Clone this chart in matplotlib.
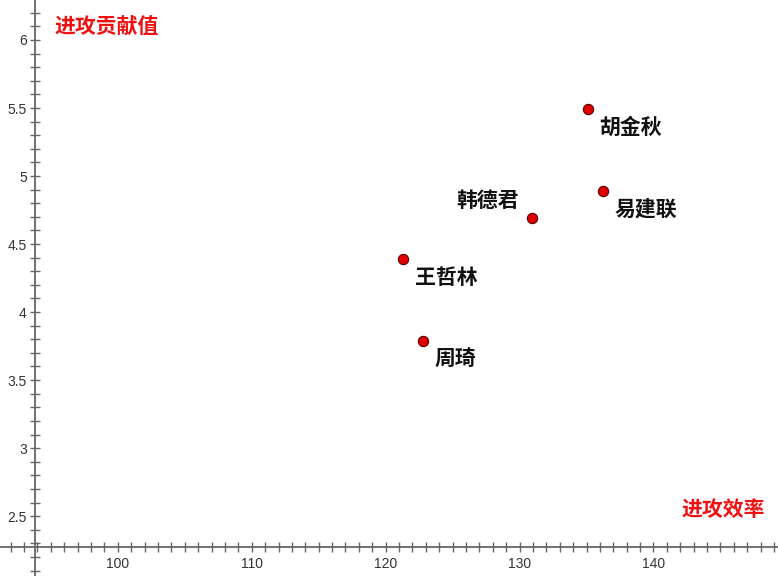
import matplotlib.pyplot as plt
from matplotlib.ticker import MultipleLocator

# data
players = ["胡金秋", "易建联", "韩德君", "王哲林", "周琦"]
off_eff = [135.1, 136.2, 130.9, 121.3, 122.8]      # 进攻效率
off_contrib = [5.49, 4.89, 4.69, 4.39, 3.79]       # 进攻贡献值
label_side = ["right", "right", "left", "right", "right"]

x_ticks = [100, 110, 120, 130, 140]
y_ticks = [2.5, 3, 3.5, 4, 4.5, 5, 5.5, 6]
y_ticklabels = ["2.5", "3", "3.5", "4", "4.5", "5", "5.5", "6"]

cjk = ["Noto Sans CJK SC", "DejaVu Sans"]
plt.rcParams["font.family"] = ["Liberation Sans", "DejaVu Sans"]

fig = plt.figure(figsize=(7.78, 5.76), dpi=100)
ax = fig.add_axes([0, 0, 1, 1])
ax.set_xlim(91.2, 149.3)
ax.set_ylim(2.06, 6.294)

# axes crossing like the original
for s in ["top", "right"]:
    ax.spines[s].set_visible(False)
ax.spines["left"].set_position(("data", 93.8))
ax.spines["bottom"].set_position(("data", 2.272))
for s in ["left", "bottom"]:
    ax.spines[s].set_color("#666666")
    ax.spines[s].set_linewidth(1.3)

ax.set_xticks(x_ticks)
ax.set_yticks(y_ticks)
ax.set_yticklabels(y_ticklabels)
ax.xaxis.set_minor_locator(MultipleLocator(1))
ax.yaxis.set_minor_locator(MultipleLocator(0.1))
ax.tick_params(which="both", direction="inout", length=7.5, width=1,
               color="#666666", labelsize=10, labelcolor="#333333")
ax.tick_params(axis="x", pad=3)
ax.tick_params(axis="y", pad=2)

ax.scatter(off_eff, off_contrib, s=55, color="#e00000",
           edgecolor="#550000", linewidth=0.8, zorder=3)

for name, x, y, side in zip(players, off_eff, off_contrib, label_side):
    if side == "right":
        ax.annotate(name, (x, y), xytext=(8.5, -13), textcoords="offset points",
                    ha="left", va="center", fontsize=15, fontweight="bold",
                    fontstyle="italic", family=cjk, color="#111111")
    else:
        ax.annotate(name, (x, y), xytext=(-9, 13), textcoords="offset points",
                    ha="right", va="center", fontsize=15, fontweight="bold",
                    fontstyle="italic", family=cjk, color="#111111")

# axis titles
fig.text(55 / 778, 1 - 27 / 576, "进攻贡献值", color="#ee1111", fontsize=15,
         fontweight="bold", family=cjk, ha="left", va="center")
fig.text(765 / 778, 1 - 510 / 576, "进攻效率", color="#ee1111", fontsize=15,
         fontweight="bold", family=cjk, ha="right", va="center")

fig.savefig("out.png", dpi=100)
